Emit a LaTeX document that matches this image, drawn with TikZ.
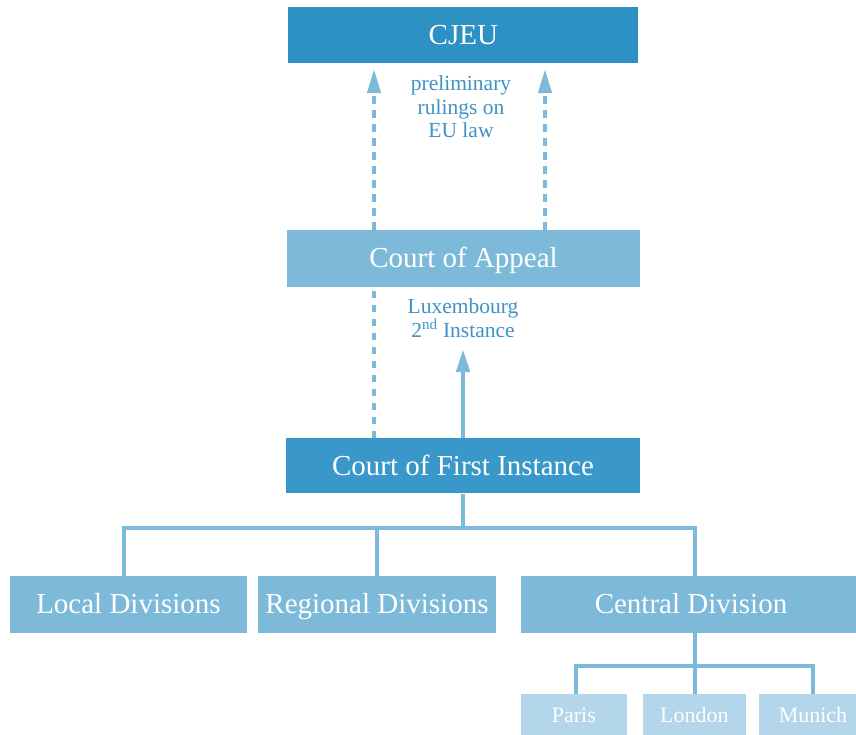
\documentclass[tikz,border=0pt]{standalone}
\usepackage{fontspec}
\setmainfont{Liberation Serif}
\usetikzlibrary{arrows.meta}
\definecolor{darkb}{HTML}{2D91C4}
\definecolor{midb}{HTML}{3A97C9}
\definecolor{lightb}{HTML}{7DBADA}
\definecolor{paleb}{HTML}{B3D6EA}
\definecolor{labelb}{HTML}{3F93C4}
\tikzset{
  box/.style={rectangle, inner sep=0pt, text=white, anchor=center,
    font=\fontsize{29}{34}\selectfont, text height=19.2pt, text depth=0pt},
  citybox/.style={rectangle, inner sep=0pt, text=white, anchor=center, fill=paleb,
    font=\fontsize{22}{26}\selectfont, text height=14.6pt, text depth=0pt,
    minimum height=42pt},
  lbl/.style={align=center, text=labelb, inner sep=0pt,
    font=\fontsize{21.5}{23.4}\selectfont},
  conn/.style={draw=lightb, line width=4pt, line join=miter},
  dasharrow/.style={draw=lightb, line width=4pt, dash pattern=on 7.5pt off 6.5pt,
    -{Triangle[length=24pt,width=13pt]}},
  solidarrow/.style={draw=lightb, line width=4.5pt,
    -{Triangle[length=23pt,width=13pt]}},
  plainline/.style={draw=lightb, line width=4pt, dash pattern=on 7.5pt off 6.5pt}
}
\begin{document}
\begin{tikzpicture}[x=1pt,y=-1pt]
\useasboundingbox (0,0) rectangle (856,734);
% boxes
\node[box, fill=darkb, minimum width=350pt, minimum height=56pt] (cjeu) at (463.3,35.3) {CJEU};
\node[box, fill=lightb, minimum width=353pt, minimum height=56.7pt] (coa) at (463.5,258.3) {Court of Appeal};
\node[box, fill=midb, minimum width=354pt, minimum height=55pt] (cfi) at (463,465.8) {Court of First Instance};
\node[box, fill=lightb, minimum width=237pt, minimum height=56.7pt] (local) at (128.5,604.3) {Local Divisions};
\node[box, fill=lightb, minimum width=238pt, minimum height=56.7pt] (regional) at (377,604.3) {Regional Divisions};
\node[box, fill=lightb, minimum width=340pt, minimum height=56.7pt] (central) at (691,604.3) {Central Division};
\node[citybox, minimum width=106.3pt] (paris) at (573.9,715) {Paris};
\node[citybox, minimum width=103.3pt] (london) at (694.4,715) {London};
\node[citybox, minimum width=108pt] (munich) at (813,715) {Munich};
% labels
\node[lbl] (prelim) at (461,107) {preliminary\\rulings on\\EU law};
\node[lbl] (lux) at (463,318) {Luxembourg\\2\textsuperscript{nd} Instance};
% helper coordinates
\coordinate (xl) at (374,0);
\coordinate (xr) at (545,0);
\coordinate (tip) at (463,349);
\coordinate (dl) at (124,528);
\coordinate (dr) at (377,528);
\coordinate (dc) at (695,528);
\coordinate (dp) at (576,666);
\coordinate (dcc) at (695,666);
\coordinate (dm) at (813,666);
% arrows
\draw[dasharrow, shorten >=5.5pt] (coa.north -| xl) -- (cjeu.south -| xl);
\draw[dasharrow, shorten >=5.5pt] (coa.north -| xr) -- (cjeu.south -| xr);
\draw[plainline] (cfi.north -| xl) -- (coa.south -| xl);
\draw[solidarrow] (cfi.north) -- (tip);
% tree
\draw[conn] (cfi.south) -- (cfi.south |- dl);
\draw[conn] (local.north -| dl) -- (dl) -- (dc) -- (central.north -| dc);
\draw[conn] (dr) -- (regional.north -| dr);
\draw[conn] (central.south -| dcc) -- (london.north -| dcc);
\draw[conn] (paris.north -| dp) -- (dp) -- (dm) -- (munich.north -| dm);
\end{tikzpicture}
\end{document}
